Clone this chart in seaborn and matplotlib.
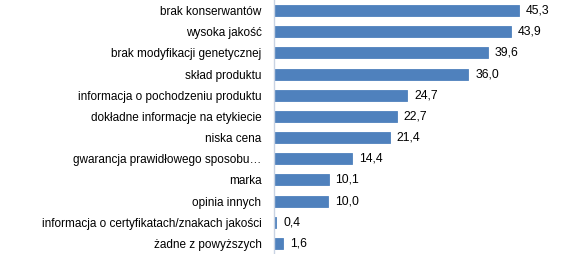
import matplotlib
matplotlib.use("Agg")
import matplotlib.pyplot as plt
import seaborn as sns
import pandas as pd

categories = [
    "brak konserwantów",
    "wysoka jakość",
    "brak modyfikacji genetycznej",
    "skład produktu",
    "informacja o pochodzeniu produktu",
    "dokładne informacje na etykiecie",
    "niska cena",
    "gwarancja prawidłowego sposobu…",
    "marka",
    "opinia innych",
    "informacja o certyfikatach/znakach jakości",
    "żadne z powyższych",
]
values = [45.3, 43.9, 39.6, 36.0, 24.7, 22.7, 21.4, 14.4, 10.1, 10.0, 0.4, 1.6]

sns.set_theme(style="white")
plt.rcParams["font.family"] = ["Liberation Sans", "DejaVu Sans"]

df = pd.DataFrame({"cat": categories, "val": values})

fig = plt.figure(figsize=(5.66, 2.54), dpi=100)
ax = fig.add_axes([274 / 566, 0.0, 270 / 566, 1.0])
sns.barplot(data=df, x="val", y="cat", color="#4F81BD", saturation=1,
            width=0.52, ax=ax, orient="h", edgecolor="#4F81BD", linewidth=0.6)
ax.set_xlim(0, 50)
ax.set_ylim(len(categories) - 0.5, -0.5)
ax.set_xlabel("")
ax.set_ylabel("")
ax.set_xticks([])
for s in ["top", "right", "bottom"]:
    ax.spines[s].set_visible(False)
ax.spines["left"].set_color("#C9D3E3")
ax.spines["left"].set_linewidth(1.0)
ax.tick_params(axis="y", length=0, pad=9, labelsize=8.5, labelcolor="#000000")
for i, v in enumerate(values):
    ax.text(v + 1.3, i, f"{v:.1f}".replace(".", ","), va="center", ha="left",
            fontsize=8.8, color="#000000")

fig.savefig("out.png", dpi=100)
